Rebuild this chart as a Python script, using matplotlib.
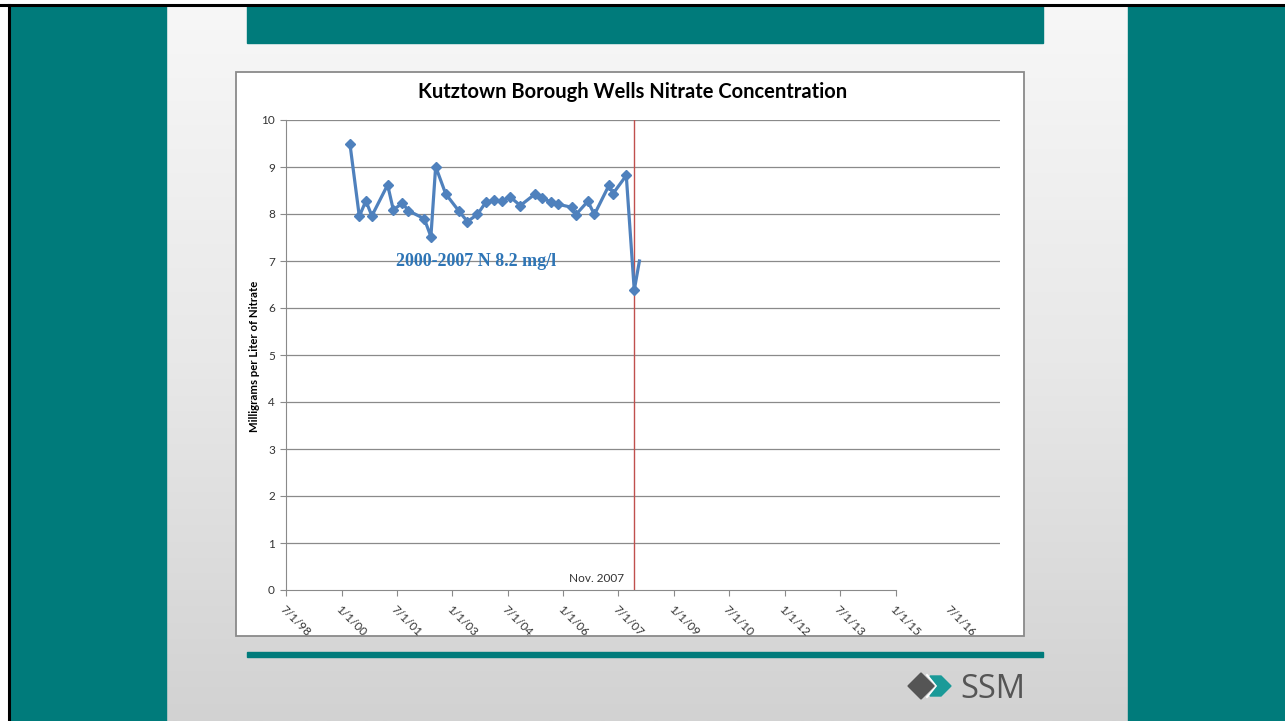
import numpy as np
import pandas as pd
import matplotlib
matplotlib.use("Agg")
import matplotlib.pyplot as plt
import matplotlib.dates as mdates
from matplotlib.patches import Rectangle, Polygon
from matplotlib.colors import LinearSegmentedColormap

# ---------------- data ----------------
sample_dates = ["2000-03-25", "2000-06-25", "2000-08-29", "2000-10-27", "2001-04-01",
                "2001-05-27", "2001-08-26", "2001-10-23", "2002-03-29", "2002-06-03",
                "2002-07-20", "2002-10-27", "2003-03-04", "2003-05-30", "2003-09-06",
                "2003-11-28", "2004-02-21", "2004-05-04", "2004-07-27", "2004-11-03",
                "2005-04-01", "2005-06-10", "2005-09-02", "2005-11-06", "2006-04-01",
                "2006-05-04", "2006-09-02", "2006-11-06", "2007-04-01", "2007-05-08",
                "2007-09-17", "2007-12-05", "2008-01-25"]
nitrate = [9.48, 7.95, 8.28, 7.96, 8.62, 8.09, 8.23, 8.07, 7.90, 7.52,
           9.01, 8.43, 8.07, 7.84, 7.99, 8.25, 8.29, 8.28, 8.36, 8.18,
           8.43, 8.33, 8.26, 8.21, 8.14, 7.98, 8.27, 7.99, 8.62, 8.43,
           8.82, 6.38, 7.00]
tick_dates = ["1998-07-01", "2000-01-01", "2001-07-01", "2003-01-01", "2004-07-01",
              "2006-01-01", "2007-07-01", "2009-01-01", "2010-07-01", "2012-01-01",
              "2013-07-01", "2015-01-01", "2016-07-01"]
tick_labels = ["7/1/98", "1/1/00", "7/1/01", "1/1/03", "7/1/04", "1/1/06", "7/1/07",
               "1/1/09", "7/1/10", "1/1/12", "7/1/13", "1/1/15", "7/1/16"]
y_ticks = list(range(0, 11))
marker_date = "2007-11-30"
title = "Kutztown Borough Wells Nitrate Concentration"
y_label = "Milligrams per Liter of Nitrate"
note_text = "2000-2007 N 8.2 mg/l"
marker_text = "Nov. 2007"

dates = mdates.date2num(pd.to_datetime(sample_dates).to_pydatetime())
tdates = mdates.date2num(pd.to_datetime(tick_dates).to_pydatetime())

def dnum(s):
    return mdates.date2num(pd.Timestamp(s).to_pydatetime())

TEAL = "#007B7B"
W, H = 1285, 721
fig = plt.figure(figsize=(W / 100, H / 100), dpi=100)

# ---------------- slide background (pixel coordinates) ----------------
bg = fig.add_axes([0, 0, 1, 1])
bg.set_xlim(0, W)
bg.set_ylim(H, 0)
bg.axis("off")
bg.add_patch(Rectangle((0, 0), W, H, color="white", zorder=0))
grad = np.linspace(0, 1, 256).reshape(-1, 1)
cmap = LinearSegmentedColormap.from_list("g", ["#f7f7f7", "#e8e8e8", "#d2d2d2"])
bg.imshow(grad, extent=(166, 1128, H, 5), cmap=cmap, aspect="auto", zorder=1)
bg.add_patch(Rectangle((10, 6), 156, H - 6, color=TEAL, zorder=2))
bg.add_patch(Rectangle((1128, 6), W - 1128, H - 6, color=TEAL, zorder=2))
bg.add_patch(Rectangle((247, 6), 796, 37, color=TEAL, zorder=2))
bg.add_patch(Rectangle((247, 652), 796, 5, color=TEAL, zorder=2))
bg.plot([0, W], [5, 5], color="black", lw=2.2, zorder=3)
bg.plot([9, 9], [5, H], color="black", lw=2.2, zorder=3)
# chart box
bg.add_patch(Rectangle((236, 72), 788, 564, facecolor="white", edgecolor="#8a8a8a",
                       lw=1.3, zorder=4))
# SSM logo
bg.add_patch(Polygon([(908, 686), (921, 673), (934, 686), (921, 699)],
                     closed=True, color="#555555", zorder=5))
bg.add_patch(Polygon([(930, 676), (941, 676), (951, 686), (941, 696), (930, 696), (938, 686)],
                     closed=True, color="#1a9a98", zorder=6))
bg.plot([927, 937], [675, 686], color="white", lw=1.4, zorder=5.5)
bg.plot([927, 937], [697, 686], color="white", lw=1.4, zorder=5.5)
bg.text(960, 689, "SSM", fontsize=23.5, family="Open Sans", color="#555555",
        ha="left", va="center", zorder=6)

# ---------------- chart ----------------
L, R, T, B = 286, 1000, 120, 590
ax = fig.add_axes([L / W, (H - B) / H, (R - L) / W, (B - T) / H])
ax.set_facecolor("none")
ax.set_ylim(0, 10)
ax.set_xlim(dnum("1998-07-01"), dnum("2017-10-30"))

ax.set_yticks(y_ticks)
ax.set_yticklabels([str(v) for v in y_ticks], family="Lato", fontsize=8.5, color="#333333")
ax.set_xticks(tdates)
ax.set_xticklabels(tick_labels, family="Lato", fontsize=8.5, color="#333333",
                   rotation=-45, ha="left", va="top", rotation_mode="anchor")
ax.tick_params(axis="both", direction="out", length=4, width=0.8, color="#8a8a8a", pad=4)
ax.tick_params(axis="x", pad=6)
ax.xaxis.get_major_ticks()[-1].tick1line.set_visible(False)

for s in ["top", "right"]:
    ax.spines[s].set_visible(False)
ax.spines["left"].set_color("#8a8a8a")
ax.spines["bottom"].set_color("#8a8a8a")
ax.spines["bottom"].set_bounds(tdates[0], tdates[-2])

ax.yaxis.grid(True, color="#8a8a8a", lw=0.9)
ax.set_axisbelow(True)
ax.get_ygridlines()[0].set_visible(False)

ax.axvline(dnum(marker_date), color="#C0504D", lw=1.0, zorder=2)
ax.plot(dates, nitrate, color="#4F81BD", lw=2.3, marker="D", markersize=5.5,
        markevery=list(range(len(nitrate) - 1)), zorder=3, clip_on=False)

ax.text(dnum("2003-08-20"), 7.0, note_text, family="Liberation Serif",
        fontweight="bold", fontsize=13, color="#2E75B6", ha="center", va="center", zorder=4)
ax.text(dnum("2007-08-25"), 0.12, marker_text, family="Lato", fontsize=8.5,
        color="#333333", ha="right", va="bottom")

fig.text((418 + 848) / 2 / W, (H - 92) / H, title, family="Lato", fontweight="bold",
         fontsize=14.5, ha="center", va="center", color="black")
fig.text(255 / W, (H - 356) / H, y_label, family="Lato", fontweight="bold",
         fontsize=8.2, rotation=90, ha="center", va="center", color="black")

fig.savefig("out.png", dpi=100)
